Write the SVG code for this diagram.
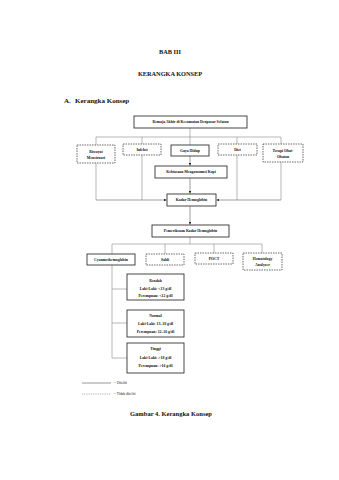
<svg xmlns="http://www.w3.org/2000/svg" width="339" height="480" viewBox="0 0 339 480">
<defs>
<marker id="ah" viewBox="0 0 6 6" refX="6" refY="3" markerWidth="4" markerHeight="4" orient="auto"><path d="M0,0 L6,3 L0,6 z" fill="#222"/></marker>
<style>
text{font-family:"Liberation Serif","Times New Roman",serif;font-weight:bold;fill:#111;text-anchor:middle}
.s{fill:#fff;stroke:#333;stroke-width:0.9}
.d{fill:#fff;stroke:#444;stroke-width:0.8;stroke-dasharray:1.5,1}
.bx{font-size:3.8px}
.ln{fill:none;stroke:#999;stroke-width:0.7}
.ar{fill:none;stroke:#777;stroke-width:0.7;marker-end:url(#ah)}
</style>
</defs>
<rect width="339" height="480" fill="#fff"/>
<text x="170" y="54" font-size="6.3">BAB III</text>
<text x="170" y="76" font-size="6.3">KERANGKA KONSEP</text>
<text x="64" y="103" font-size="7" style="text-anchor:start">A.</text>
<text x="75" y="103" font-size="7" style="text-anchor:start">Kerangka Konsep</text>

<g id="connectors">
<path class="ln" d="M190,128 V137 M96,137 H281 M96,137 V145 M142,137 V144 M190,137 V145 M237,137 V144 M281,137 V144"/>
<path class="ln" d="M96,163 V200 M142,155 V200 M237,155 V200 M281,162 V200"/>
<path class="ar" d="M96,200 H166.5"/>
<path class="ar" d="M281,200 H216.5"/>
<path class="ar" d="M190,156 V165.5"/>
<path class="ar" d="M190,178 V193.5"/>
<path class="ar" d="M190,206 V224.5"/>
<path class="ln" d="M190,237 V244 M112,244 H262 M112,244 V254 M165,244 V254 M214,244 V253 M262,244 V253"/>
<path class="ln" d="M112,265 V358 M112,289 H127 M112,323 H127 M112,358 H127"/>
</g>

<g id="n-remaja"><rect class="s" x="134" y="116" width="113" height="12"/><text class="bx" x="190.5" y="123.3">Remaja Akhir di Kecamatan Denpasar Selatan</text></g>
<g id="n-riwayat"><rect class="d" x="77" y="145" width="38" height="18"/><text class="bx" x="96" y="152.5">Riwayat</text><text class="bx" x="96" y="158.5">Menstruasi</text></g>
<g id="n-infeksi"><rect class="d" x="123" y="144" width="38" height="11"/><text class="bx" x="142" y="150.8">Infeksi</text></g>
<g id="n-gaya"><rect class="s" x="171" y="145" width="38" height="11"/><text class="bx" x="190" y="151.8">Gaya Hidup</text></g>
<g id="n-diet"><rect class="d" x="218" y="144" width="39" height="11"/><text class="bx" x="237.5" y="150.8">Diet</text></g>
<g id="n-terapi"><rect class="d" x="263" y="144" width="40" height="18"/><text class="bx" x="283" y="151.5">Terapi Obat-</text><text class="bx" x="283" y="157.5">Obatan</text></g>
<g id="n-kopi"><rect class="s" x="155" y="166" width="72" height="12"/><text class="bx" x="191" y="173.3">Kebiasaan Mengonsumsi Kopi</text></g>
<g id="n-kadar"><rect class="s" x="167" y="194" width="49" height="12"/><text class="bx" x="191.5" y="201.3">Kadar Hemoglobin</text></g>
<g id="n-pemeriksaan"><rect class="s" x="152" y="225" width="77" height="12"/><text class="bx" x="190.5" y="232.3">Pemeriksaan Kadar Hemoglobin</text></g>
<g id="n-cyan"><rect class="s" x="87" y="254" width="48" height="11"/><text class="bx" x="111" y="260.8">Cyanmethemoglobin</text></g>
<g id="n-sahli"><rect class="d" x="146" y="254" width="38" height="11"/><text class="bx" x="165" y="260.8">Sahli</text></g>
<g id="n-poct"><rect class="d" x="195" y="253" width="38" height="11"/><text class="bx" x="214" y="259.8">POCT</text></g>
<g id="n-hema"><rect class="d" x="243" y="253" width="39" height="17"/><text class="bx" x="262.5" y="260">Hematology</text><text class="bx" x="262.5" y="266">Analyzer</text></g>
<g id="n-rendah"><rect class="s" x="127" y="274" width="57" height="26"/><text class="bx" x="155.5" y="281.5">Rendah</text><text class="bx" x="155.5" y="289.5">Laki-Laki: &lt;13 g/dl</text><text class="bx" x="155.5" y="297">Perempuan: &lt;12 g/dl</text></g>
<g id="n-normal"><rect class="s" x="127" y="310" width="57" height="27"/><text class="bx" x="155.5" y="316.5">Normal</text><text class="bx" x="155.5" y="324.5">Laki-Laki: 13–18 g/dl</text><text class="bx" x="155.5" y="332.5">Perempuan: 12–16 g/dl</text></g>
<g id="n-tinggi"><rect class="s" x="127" y="343" width="57" height="30"/><text class="bx" x="155.5" y="350">Tinggi</text><text class="bx" x="155.5" y="358.5">Laki-Laki: &gt;18 g/dl</text><text class="bx" x="155.5" y="367">Perempuan: &gt;16 g/dl</text></g>

<g id="legend">
<line x1="82" y1="383" x2="111" y2="383" stroke="#555" stroke-width="0.6"/>
<text x="114" y="384.3" font-size="3.6" style="text-anchor:start;font-weight:normal">= Diteliti</text>
<line x1="82" y1="394" x2="111" y2="394" stroke="#777" stroke-width="0.6" stroke-dasharray="1,0.8"/>
<text x="114" y="395.3" font-size="3.6" style="text-anchor:start;font-weight:normal">= Tidak diteliti</text>
</g>
<text x="171" y="416" font-size="6.5">Gambar 4. Kerangka Konsep</text>
</svg>
